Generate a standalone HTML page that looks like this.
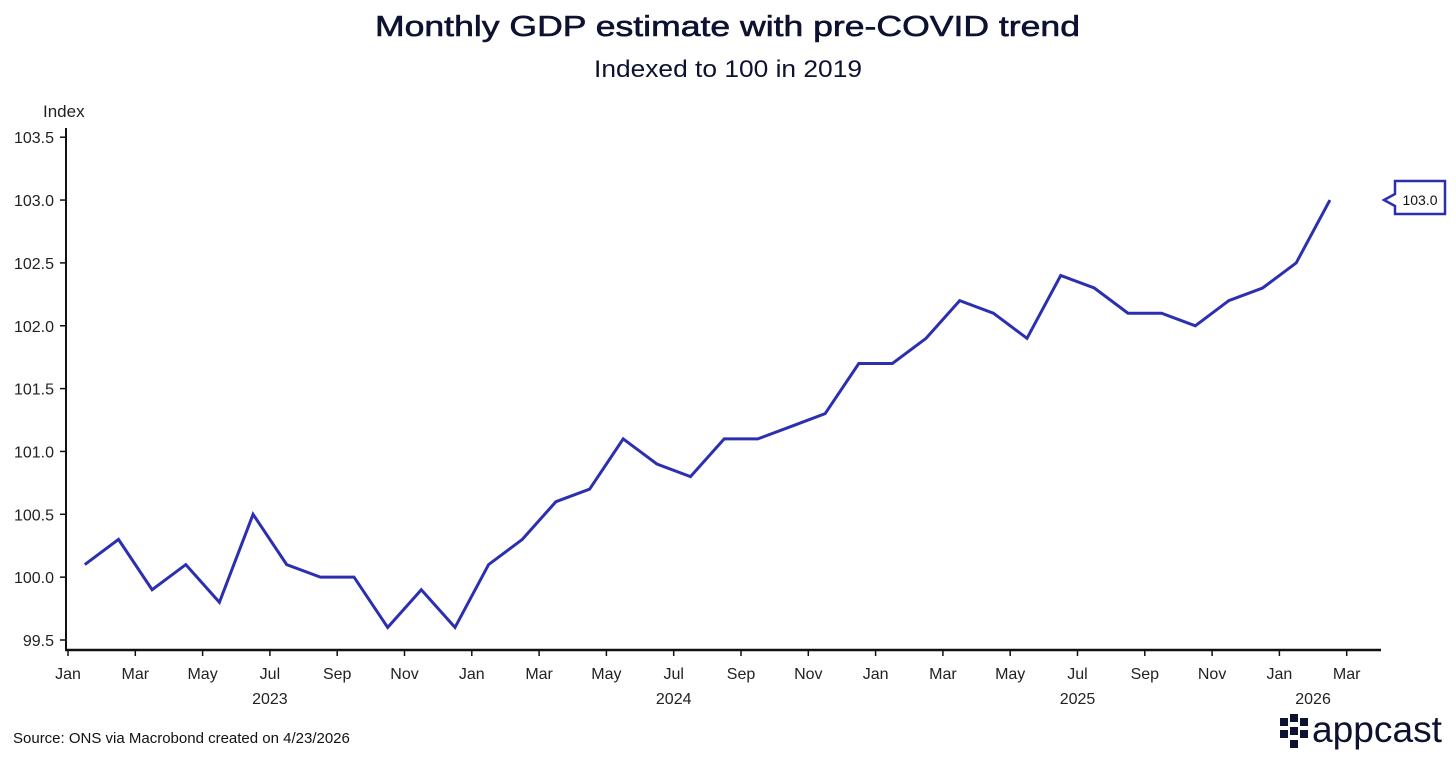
<!DOCTYPE html>
<html><head><meta charset="utf-8"><style>
html,body{margin:0;padding:0;background:#fff;}
body{width:1456px;height:761px;overflow:hidden;font-family:"Liberation Sans",sans-serif;}
</style></head><body>
<svg id="chart" width="1456" height="761" xmlns="http://www.w3.org/2000/svg" font-family="Liberation Sans, sans-serif">
<text x="375" y="36" font-size="29" fill="#0d1230" stroke="#0d1230" stroke-width="0.6" textLength="705" lengthAdjust="spacingAndGlyphs">Monthly GDP estimate with pre-COVID trend</text>
<text x="594" y="77" font-size="24" fill="#0d1230" textLength="268" lengthAdjust="spacingAndGlyphs">Indexed to 100 in 2019</text>
<text x="43" y="117" font-size="17" fill="#222">Index</text>
<g id="yaxis"></g>
<g id="xaxis"></g>
<g id="series"></g>
<g>
<path d="M1395,181 H1445 V214 H1395 V206 L1384,200 L1395,194 Z" fill="#fff" stroke="#2b2fb0" stroke-width="2.5"/>
<text x="1420" y="205" text-anchor="middle" font-size="14" fill="#111">103.0</text>
</g>
<text x="13" y="743" font-size="15" fill="#111">Source: ONS via Macrobond created on 4/23/2026</text>
<g>
<rect x="1280" y="718" width="8" height="8" fill="#0d1230"/><rect x="1280" y="730" width="8" height="8" fill="#0d1230"/>
<rect x="1290" y="714" width="8" height="8" fill="#0d1230"/><rect x="1290" y="727" width="8" height="8" fill="#0d1230"/><rect x="1290" y="740" width="8" height="8" fill="#0d1230"/>
<rect x="1300" y="718" width="8" height="8" fill="#0d1230"/><rect x="1300" y="730" width="8" height="8" fill="#0d1230"/>
<text x="1312" y="742" font-size="37" fill="#0d1230" textLength="130" lengthAdjust="spacingAndGlyphs">appcast</text>
</g>
</svg>
<script>
const months=["Jan 23","Feb 23","Mar 23","Apr 23","May 23","Jun 23","Jul 23","Aug 23","Sep 23","Oct 23","Nov 23","Dec 23","Jan 24","Feb 24","Mar 24","Apr 24","May 24","Jun 24","Jul 24","Aug 24","Sep 24","Oct 24","Nov 24","Dec 24","Jan 25","Feb 25","Mar 25","Apr 25","May 25","Jun 25","Jul 25","Aug 25","Sep 25","Oct 25","Nov 25","Dec 25","Jan 26","Feb 26"];
const values=[100.1,100.3,99.9,100.1,99.8,100.5,100.1,100.0,100.0,99.6,99.9,99.6,100.1,100.3,100.6,100.7,101.1,100.9,100.8,101.1,101.1,101.2,101.3,101.7,101.7,101.9,102.2,102.1,101.9,102.4,102.3,102.1,102.1,102.0,102.2,102.3,102.5,103.0];
const yTicks=[99.5,100.0,100.5,101.0,101.5,102.0,102.5,103.0,103.5];
const xTickLabels=["Jan","Mar","May","Jul","Sep","Nov","Jan","Mar","May","Jul","Sep","Nov","Jan","Mar","May","Jul","Sep","Nov","Jan","Mar"];
const yearLabels=["2023","2024","2025","2026"];
const NS="http://www.w3.org/2000/svg";
const x0=68,mw=33.65;
function xScale(i){return x0+(i+0.5)*mw;}
function yScale(v){return 640-(v-99.5)*125.7;}
function mk(t,a,p){const e=document.createElementNS(NS,t);for(const k in a)e.setAttribute(k,a[k]);p.appendChild(e);return e;}
const ya=document.getElementById('yaxis'),xa=document.getElementById('xaxis'),se=document.getElementById('series');
mk('line',{x1:66,y1:128,x2:66,y2:651,stroke:'#111','stroke-width':2},ya);
yTicks.forEach(v=>{const y=yScale(v);mk('line',{x1:60,y1:y,x2:66,y2:y,stroke:'#111','stroke-width':1.5},ya);
const t=mk('text',{x:54,y:y+6,'text-anchor':'end','font-size':16,fill:'#222'},ya);t.textContent=v.toFixed(1);

});
mk('line',{x1:65,y1:650,x2:1381,y2:650,stroke:'#111','stroke-width':2.5},xa);
xTickLabels.forEach((l,k)=>{const x=x0+k*2*mw;mk('line',{x1:x,y1:650,x2:x,y2:656,stroke:'#111','stroke-width':1.5},xa);
const t=mk('text',{x:x,y:679,'text-anchor':'middle','font-size':16,fill:'#222'},xa);t.textContent=l;

});
yearLabels.forEach((l,k)=>{const x=k<3?x0+(k*12+6)*mw:x0+(k*12+1)*mw;
const t=mk('text',{x:x,y:704,'text-anchor':'middle','font-size':16,fill:'#222'},xa);t.textContent=l;

});
const pts=values.map((v,i)=>xScale(i).toFixed(1)+','+yScale(v).toFixed(1)).join(' ');
const pl=mk('polyline',{points:pts,fill:'none',stroke:'#2b2fb0','stroke-width':3,'stroke-linejoin':'miter'},se);


</script>
</body></html>
